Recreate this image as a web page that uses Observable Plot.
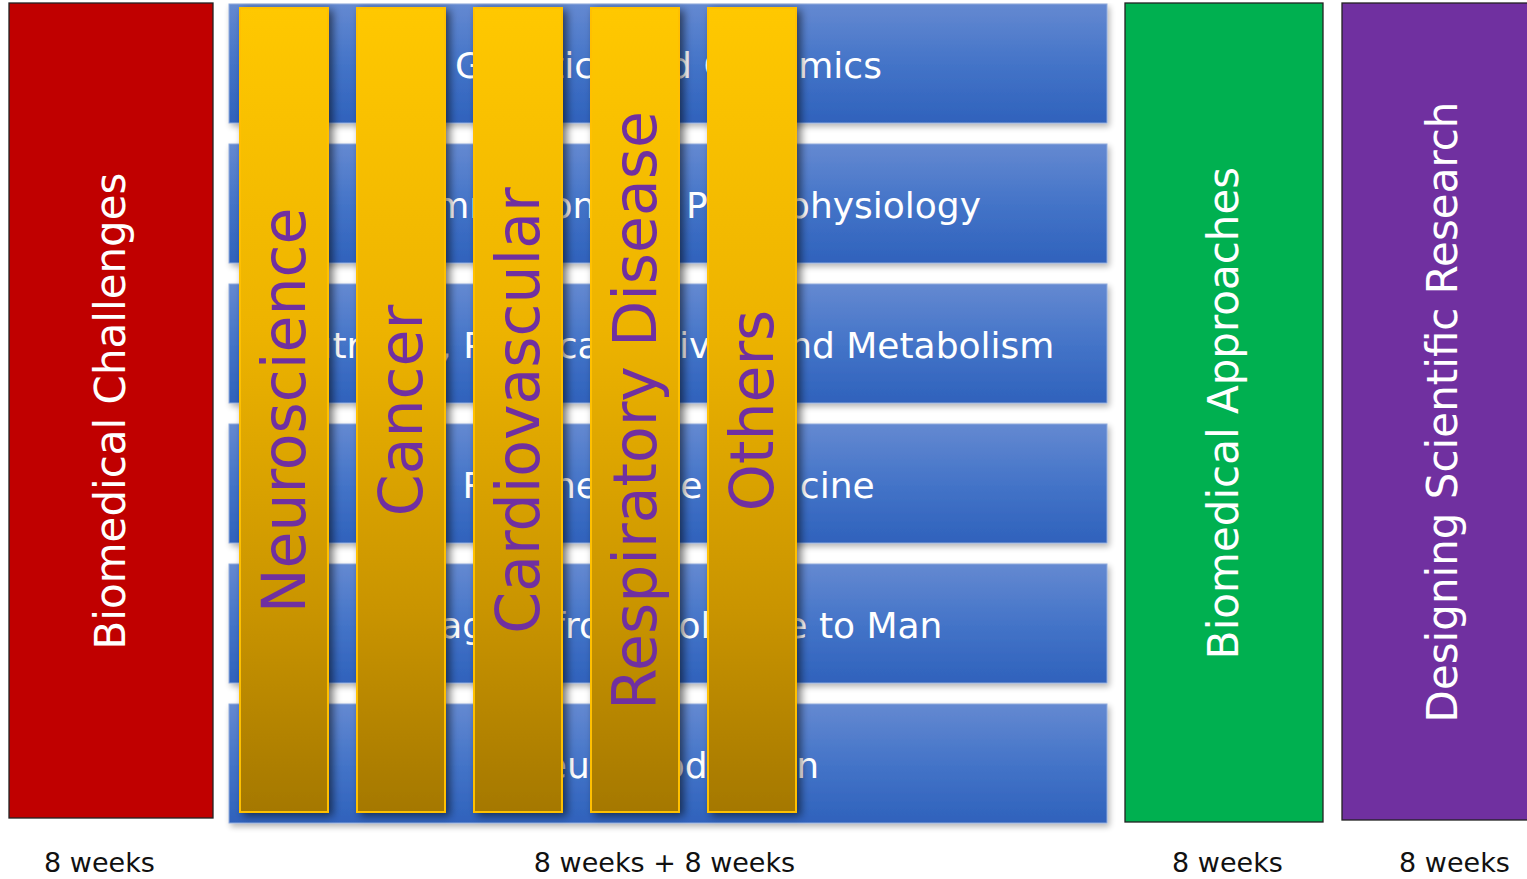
<!DOCTYPE html>
<html><head><meta charset="utf-8">
<script src="https://cdn.jsdelivr.net/npm/d3@7"></script>
<script src="https://cdn.jsdelivr.net/npm/@observablehq/plot@0.6"></script>
<style>
html,body{margin:0;padding:0;background:#fff;overflow:hidden}
</style></head><body><div id="chart"></div>
<script>
// ---------- data ----------
const stages = ["Biomedical Challenges", "Themes", "Biomedical Approaches", "Designing Scientific Research"];
const durations = ["8 weeks", "8 weeks + 8 weeks", "8 weeks", "8 weeks"];
const themes = [
  "Genetics and Genomics",
  "Inflammation and Pathophysiology",
  "Nutrition, Physical Activity and Metabolism",
  "Regenerative Medicine",
  "Imaging from Molecule to Man",
  "Neuroproduction"
];
const diseases = ["Neuroscience", "Cancer", "Cardiovascular", "Respiratory Disease", "Others"];

// ---------- layout & style ----------
const W = 1527, H = 879;
const columns = [
  {x1: 9, x2: 213, y1: 3, y2: 818, captionX: 99},
  {x1: 229, x2: 1107, y1: 4, y2: 823, captionX: 664},
  {x1: 1125, x2: 1323, y1: 3, y2: 822, captionX: 1227},
  {x1: 1342, x2: 1544, y1: 3, y2: 820, captionX: 1454}
];
const columnFill = ["#C00000", null, "#00B050", "#7030A0"];
const themeRow = {height: 119, step: 140};
const diseaseBar = {x0: 240, step: 117, width: 88, y1: 8, y2: 812};
const captionY = 863;
const FONT = "DejaVu Sans";

const solid = [0, 2, 3].map(i => ({name: stages[i], fill: columnFill[i], ...columns[i]}));
const themeRects = themes.map((t, i) => {
  const c = columns[1];
  const y1 = c.y1 + i * themeRow.step;
  return {name: t, x1: c.x1, x2: c.x2, y1, y2: y1 + themeRow.height};
});
const diseaseRects = diseases.map((d, i) => {
  const x1 = diseaseBar.x0 + i * diseaseBar.step;
  return {name: d, x1, x2: x1 + diseaseBar.width, y1: diseaseBar.y1, y2: diseaseBar.y2};
});
const captions = durations.map((d, i) => ({text: d, x: columns[i].captionX, y: captionY}));

const cx = d => (d.x1 + d.x2) / 2;
const cy = d => (d.y1 + d.y2) / 2;

const chart = Plot.plot({
  width: W, height: H, margin: 0,
  x: {domain: [0, W], range: [0, W], axis: null},
  y: {domain: [0, H], range: [0, H], axis: null},
  color: {type: "identity"},
  style: {background: "white", fontFamily: FONT},
  marks: [
    Plot.rect(solid, {x1: "x1", x2: "x2", y1: "y1", y2: "y2", fill: "fill", stroke: "#222", strokeWidth: 1.3, ariaLabel: "stage boxes"}),
    Plot.text(solid, {x: cx, y: cy, text: "name", rotate: -90, fontSize: 42, fill: "white", fontFamily: FONT}),
    Plot.rect(themeRects, {x1: "x1", x2: "x2", y1: "y1", y2: "y2", fill: "url(#blueGrad)", stroke: "#8FAADC", strokeWidth: 1, ariaLabel: "theme bars"}),
    Plot.text(themeRects, {x: cx, y: cy, dy: 2, text: "name", fontSize: 36, fill: "white", fontFamily: FONT}),
    Plot.rect(diseaseRects, {x1: "x1", x2: "x2", y1: "y1", y2: "y2", fill: "url(#goldGrad)", stroke: "#FFC000", strokeWidth: 2, ariaLabel: "disease bars"}),
    Plot.text(diseaseRects, {x: cx, y: cy, dx: 1, text: "name", rotate: -90, fontSize: 60, fill: "#7030A0", fontFamily: FONT}),
    Plot.text(captions, {x: "x", y: "y", text: "text", fontSize: 27, fill: "#111", fontFamily: FONT})
  ]
});

const svg = d3.select(chart.tagName.toLowerCase() === "svg" ? chart : chart.querySelector("svg"));
const defs = svg.insert("defs", ":first-child");
function grad(id, stops) {
  const g = defs.append("linearGradient").attr("id", id).attr("x1", 0).attr("y1", 0).attr("x2", 0).attr("y2", 1);
  stops.forEach(([o, c]) => g.append("stop").attr("offset", o).attr("stop-color", c));
}
grad("blueGrad", [[0, "#6489D1"], [0.5, "#4474C8"], [1, "#2F62BC"]]);
grad("goldGrad", [[0, "#FFC800"], [0.4, "#EDB300"], [0.75, "#C99400"], [1, "#A57800"]]);
function shadow(id, dx, dy, sd, op) {
  const f = defs.append("filter").attr("id", id).attr("filterUnits", "userSpaceOnUse")
    .attr("x", 0).attr("y", 0).attr("width", W).attr("height", H);
  f.append("feGaussianBlur").attr("in", "SourceAlpha").attr("stdDeviation", sd).attr("result", "blur");
  f.append("feOffset").attr("in", "blur").attr("dx", dx).attr("dy", dy).attr("result", "off");
  f.append("feComponentTransfer").attr("in", "off").attr("result", "sh")
    .append("feFuncA").attr("type", "linear").attr("slope", op);
  const m = f.append("feMerge");
  m.append("feMergeNode").attr("in", "sh");
  m.append("feMergeNode").attr("in", "SourceGraphic");
}
shadow("shadowGold", 4, 3, 4, 0.55);
shadow("shadowBlue", 2, 3, 3, 0.3);
svg.selectAll("g").each(function() {
  const f = this.getAttribute("fill");
  if (f === "url(#goldGrad)") this.setAttribute("filter", "url(#shadowGold)");
  if (f === "url(#blueGrad)") this.setAttribute("filter", "url(#shadowBlue)");
});

document.getElementById("chart").appendChild(chart);
</script></body></html>
